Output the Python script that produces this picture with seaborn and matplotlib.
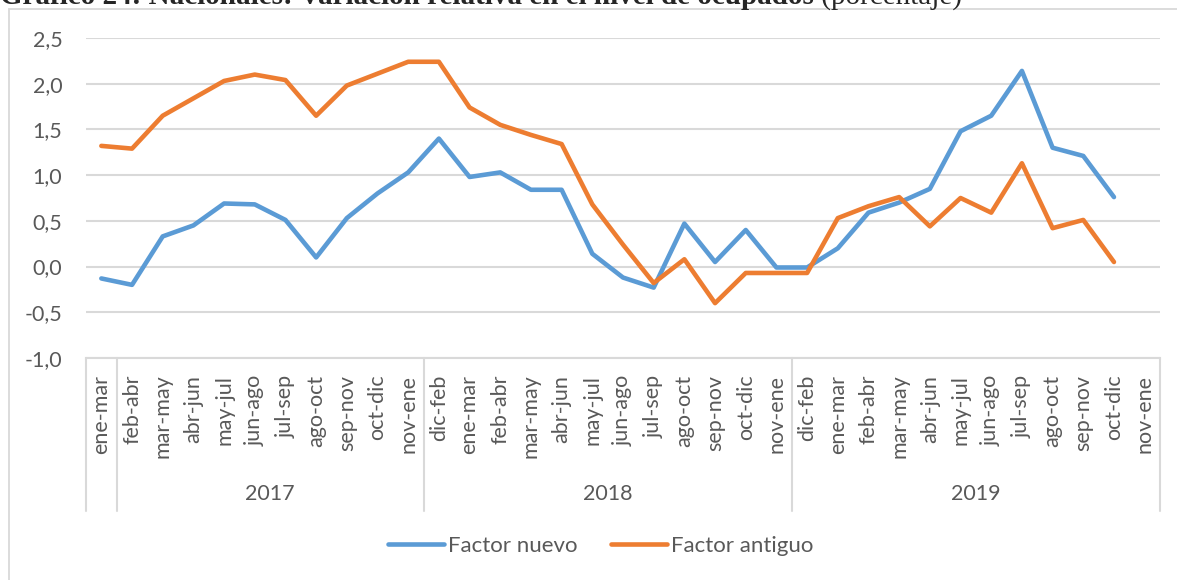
import matplotlib.pyplot as plt
import matplotlib.transforms as mtransforms
from matplotlib.patches import Rectangle
from matplotlib.lines import Line2D
import numpy as np
import pandas as pd
import seaborn as sns

# categorías (trimestres móviles) y años
cats_2016 = ['ene-mar']
cats_2017 = ['feb-abr', 'mar-may', 'abr-jun', 'may-jul', 'jun-ago', 'jul-sep',
             'ago-oct', 'sep-nov', 'oct-dic', 'nov-ene']
cats_2018 = ['dic-feb', 'ene-mar', 'feb-abr', 'mar-may', 'abr-jun', 'may-jul',
             'jun-ago', 'jul-sep', 'ago-oct', 'sep-nov', 'oct-dic', 'nov-ene']
cats_2019 = ['dic-feb', 'ene-mar', 'feb-abr', 'mar-may', 'abr-jun', 'may-jul',
             'jun-ago', 'jul-sep', 'ago-oct', 'sep-nov', 'oct-dic', 'nov-ene']
years = ['', '2017', '2018', '2019']
groups = [cats_2016, cats_2017, cats_2018, cats_2019]

factor_nuevo = [-0.13, -0.20, 0.33, 0.45, 0.69, 0.68, 0.51, 0.10, 0.53, 0.80,
                1.03, 1.40, 0.98, 1.03, 0.84, 0.84, 0.14, -0.12, -0.23, 0.47,
                0.05, 0.40, -0.01, -0.01, 0.20, 0.59, 0.70, 0.85, 1.48, 1.65,
                2.14, 1.30, 1.21, 0.76]
factor_antiguo = [1.32, 1.29, 1.65, 1.84, 2.03, 2.10, 2.04, 1.65, 1.98, 2.11,
                  2.24, 2.24, 1.74, 1.55, 1.44, 1.34, 0.68, 0.24, -0.18, 0.08,
                  -0.40, -0.07, -0.07, -0.07, 0.53, 0.66, 0.76, 0.44, 0.75, 0.59,
                  1.13, 0.42, 0.51, 0.05]

yticks = [-1.0, -0.5, 0.0, 0.5, 1.0, 1.5, 2.0, 2.5]

categories = cats_2016 + cats_2017 + cats_2018 + cats_2019

df = pd.concat([
    pd.DataFrame({'idx': range(len(factor_nuevo)), 'valor': factor_nuevo, 'serie': 'Factor nuevo'}),
    pd.DataFrame({'idx': range(len(factor_antiguo)), 'valor': factor_antiguo, 'serie': 'Factor antiguo'}),
])

sns.set_theme(style='white')
plt.rcParams['font.family'] = ['Lato', 'DejaVu Sans']

W, H = 1177, 580
fig = plt.figure(figsize=(W / 100, H / 100), dpi=100)
ax = fig.add_axes([86 / W, 1 - 358 / H, (1160 - 86) / W, 320 / H])

grey_txt = '#595959'
grid_c = '#d9d9d9'
blue = '#5b9bd5'
orange = '#ed7d31'

# marco del gráfico
fig.patches.append(Rectangle((8.5 / W, -0.1), 1.2, 1 - 9 / H + 0.1, transform=fig.transFigure,
                             fill=False, edgecolor=grid_c, linewidth=1.3))

sns.lineplot(data=df, x='idx', y='valor', hue='serie', ax=ax,
             palette={'Factor nuevo': blue, 'Factor antiguo': orange},
             linewidth=3.3, estimator=None, sort=False, legend=False)

ax.set_xlim(-0.5, len(categories) - 0.5)
ax.set_ylim(-1.0, 2.5)
ax.set_yticks(yticks)
ax.set_yticklabels([f'{v:.1f}'.replace('.', ',') for v in yticks])
ax.yaxis.grid(True, color=grid_c, linewidth=1.5)
ax.set_axisbelow(True)
for s in ['top', 'right', 'left']:
    ax.spines[s].set_visible(False)
ax.spines['bottom'].set_color(grid_c)
ax.spines['bottom'].set_linewidth(1.5)

ax.set_xticks(range(len(categories)))
ax.set_xticklabels(categories, rotation=90)
ax.tick_params(axis='x', length=0, pad=12, labelsize=15.5, labelcolor=grey_txt)
ax.tick_params(axis='y', length=0, pad=17, labelsize=15.5, labelcolor=grey_txt)
ax.set_xlabel('')
ax.set_ylabel('')

# separadores y etiquetas de año
trans = mtransforms.blended_transform_factory(ax.transData, ax.transAxes)
sep_bottom = -(511 - 358) / 320
start = 0
bounds = [-0.5]
for yr, g in zip(years, groups):
    end = start + len(g)
    bounds.append(end - 0.5)
    if yr:
        ax.text((start + end - 1) / 2, -(494 - 358) / 320, yr, transform=trans,
                ha='center', va='center', fontsize=15.5, color=grey_txt)
    start = end
for b in bounds:
    ax.plot([b, b], [0, sep_bottom], transform=trans, color=grid_c, linewidth=1.5, clip_on=False)

# leyenda
handles = [Line2D([], [], color=blue, linewidth=3.3, solid_capstyle='round'),
           Line2D([], [], color=orange, linewidth=3.3, solid_capstyle='round')]
fig.legend(handles, ['Factor nuevo', 'Factor antiguo'], loc='center',
           bbox_to_anchor=(601 / W, 1 - 546 / H), ncol=2, frameon=False,
           fontsize=16, labelcolor=grey_txt, handlelength=2.5, handletextpad=0.2,
           columnspacing=1.5)

# título (cortado en la parte superior, como en el original)
t1 = fig.text(0, 1 - 4 / H, 'Gráfico 24: Nacionales: Variación relativa en el nivel de ocupados',
              family='Liberation Serif', weight='bold', fontsize=21, ha='left', va='baseline')
fig.canvas.draw()
bb = t1.get_window_extent()
fig.text(bb.x1 / W, 1 - 4 / H, ' (porcentaje)', family='Liberation Serif', fontsize=21,
         ha='left', va='baseline')

fig.savefig('out.png', dpi=100)
